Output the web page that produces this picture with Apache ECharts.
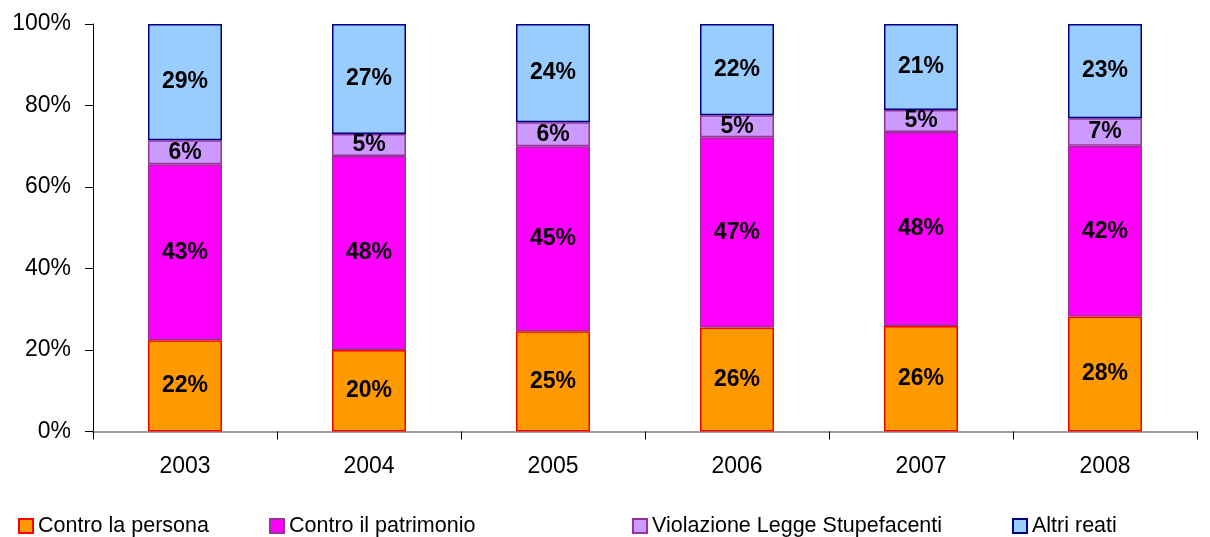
<!DOCTYPE html>
<html>
<head>
<meta charset="utf-8">
<script src="https://cdn.jsdelivr.net/npm/echarts@6/dist/echarts.min.js"></script>
<style>
  html, body { margin: 0; padding: 0; background: #fff; }
  #chart { width: 1210px; height: 537px; }
</style>
</head>
<body>
<div id="chart"></div>
<script>
// anni
const years = ['2003', '2004', '2005', '2006', '2007', '2008'];
// quote percentuali per tipo di reato
const controPersona = [22.4, 20.0, 24.6, 25.5, 25.9, 28.2];
const controPatrimonio = [43.2, 47.6, 45.4, 46.7, 47.6, 41.9];
const stupefacenti = [5.9, 5.4, 5.9, 5.4, 5.4, 6.8];
const altriReati = [28.5, 27.0, 24.1, 22.4, 21.1, 23.1];
const yTicks = [0, 20, 40, 60, 80, 100];

const names = ['Contro la persona', 'Contro il patrimonio', 'Violazione Legge Stupefacenti', 'Altri reati'];
const fills = ['#FF9900', '#FF00FF', '#CC99FF', '#99CCFF'];
const borders = ['#FF0000', '#993399', '#993399', '#000080'];
const legendLeft = [13, 264, 627, 1007];

const chart = echarts.init(document.getElementById('chart'));

function makeSeries(i, data) {
  return {
    name: names[i],
    type: 'bar',
    stack: 'tot',
    barWidth: 74,
    data: data,
    itemStyle: { color: fills[i], borderColor: borders[i], borderWidth: 1.5 },
    label: {
      show: true,
      position: 'inside',
      color: '#000',
      fontFamily: 'Liberation Sans, Arial, sans-serif',
      fontWeight: 'bold',
      fontSize: 23,
      formatter: p => Math.round(p.value) + '%'
    }
  };
}

const option = {
  animation: false,
  backgroundColor: '#fff',
  textStyle: { fontFamily: 'Liberation Sans, Arial, sans-serif' },
  grid: { left: 93, right: 13, top: 24, bottom: 105.5, containLabel: false },
  legend: names.map((n, i) => ({
    data: [n],
    left: legendLeft[i],
    top: 510,
    itemWidth: 14,
    itemHeight: 14,
    icon: 'rect',
    textStyle: { fontSize: 21.5, color: '#000' }
  })),
  xAxis: {
    type: 'category',
    data: years,
    axisLine: { lineStyle: { color: '#808080', width: 1.5 } },
    axisTick: { show: true, length: 8, lineStyle: { color: '#000' } },
    axisLabel: { color: '#000', fontSize: 23, margin: 24 }
  },
  yAxis: {
    type: 'value',
    min: 0,
    max: 100,
    interval: 20,
    axisLine: { show: true, lineStyle: { color: '#000', width: 1 } },
    axisTick: { show: true, length: 8, lineStyle: { color: '#000' } },
    splitLine: { show: false },
    axisLabel: {
      color: '#000',
      fontSize: 23,
      margin: 22,
      formatter: v => (yTicks.includes(v) ? v + '%' : '')
    }
  },
  series: [
    makeSeries(0, controPersona),
    makeSeries(1, controPatrimonio),
    makeSeries(2, stupefacenti),
    makeSeries(3, altriReati)
  ]
};

chart.setOption(option);
</script>
</body>
</html>
